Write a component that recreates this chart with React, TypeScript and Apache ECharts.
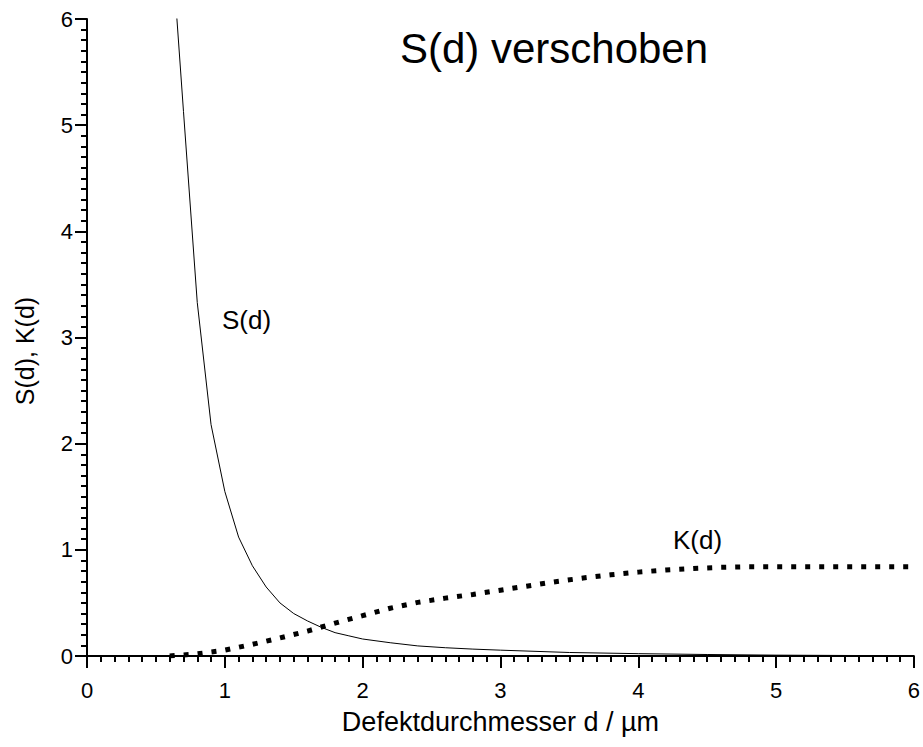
import React, { useEffect, useRef } from "react";
import * as echarts from "echarts";

const sD = [0.6, 0.7, 0.8, 0.9, 1.0, 1.1, 1.2, 1.3, 1.4, 1.5, 1.6, 1.7, 1.8, 1.9, 2.0, 2.2, 2.4, 2.6, 2.8, 3.0, 3.5, 4.0, 4.5, 5.0, 5.5, 6.0];
const sValues = [6.96, 5.13, 3.33, 2.18, 1.55, 1.12, 0.85, 0.65, 0.5, 0.4, 0.33, 0.27, 0.22, 0.19, 0.16, 0.125, 0.095, 0.078, 0.065, 0.055, 0.033, 0.022, 0.014, 0.008, 0.005, 0.003];

const kD = [0.6, 0.8, 1.0, 1.2, 1.4, 1.6, 1.8, 2.0, 2.2, 2.4, 2.6, 2.8, 3.0, 3.2, 3.4, 3.6, 3.8, 4.0, 4.2, 4.4, 4.6, 4.8, 5.0, 5.5, 6.0];
const kValues = [0, 0.02, 0.055, 0.11, 0.17, 0.235, 0.31, 0.38, 0.45, 0.505, 0.545, 0.58, 0.62, 0.66, 0.7, 0.735, 0.765, 0.79, 0.81, 0.825, 0.835, 0.84, 0.84, 0.84, 0.84];

const xTicks = ["0", "1", "2", "3", "4", "5", "6"];
const yTicks = ["0", "1", "2", "3", "4", "5", "6"];

const titleText = "S(d) verschoben";
const xName = "Defektdurchmesser d / µm";
const yName = "S(d), K(d)";
const sLabel = "S(d)";
const kLabel = "K(d)";

const FONT = "'Liberation Sans', Arial, Helvetica, sans-serif";

export default function App() {
  const ref = useRef<HTMLDivElement>(null);
  useEffect(() => {
    document.body.style.margin = "0";
    const chart = echarts.init(ref.current!, null, { renderer: "svg" });
    const axisCommon = {
      type: "value",
      min: 0,
      max: 6,
      interval: 1,
      splitLine: { show: false },
      axisLine: { show: true, lineStyle: { color: "#000", width: 2 } },
      axisTick: { show: true, inside: false, length: 12, lineStyle: { color: "#000", width: 2 } },
      minorTick: { show: true, splitNumber: 10, length: 6, lineStyle: { color: "#000", width: 2 } },
      minorSplitLine: { show: false },
    };
    chart.setOption({
      animation: false,
      backgroundColor: "#fff",
      textStyle: { fontFamily: FONT },
      title: {
        text: titleText,
        left: 549,
        top: 22,
        textAlign: "center",
        textStyle: { fontFamily: FONT, fontSize: 42, fontWeight: "normal", color: "#000" },
      },
      grid: { left: 87, right: 7, top: 19, bottom: 91, containLabel: false },
      xAxis: {
        ...axisCommon,
        name: xName,
        nameLocation: "middle",
        nameGap: 52,
        nameTextStyle: { fontFamily: FONT, fontSize: 27, color: "#000" },
        axisLabel: {
          margin: 23,
          fontFamily: FONT,
          fontSize: 22,
          color: "#000",
          formatter: (v: number) => xTicks[Math.round(v)] ?? "",
        },
      },
      yAxis: {
        ...axisCommon,
        axisLabel: {
          margin: 14,
          fontFamily: FONT,
          fontSize: 22,
          color: "#000",
          formatter: (v: number) => yTicks[Math.round(v)] ?? "",
        },
      },
      graphic: [
        {
          type: "text",
          x: 25,
          y: 351,
          rotation: Math.PI / 2,
          style: {
            text: yName,
            fontFamily: FONT,
            fontSize: 25,
            fill: "#000",
            align: "center",
            verticalAlign: "middle",
          },
        },
        {
          type: "text",
          left: 222,
          top: 307,
          style: { text: sLabel, fontFamily: FONT, fontSize: 26, fill: "#000" },
        },
        {
          type: "text",
          left: 673,
          top: 527,
          style: { text: kLabel, fontFamily: FONT, fontSize: 26, fill: "#000" },
        },
      ],
      series: [
        {
          name: "S(d)",
          type: "line",
          data: sD.map((d, i) => [d, sValues[i]]),
          showSymbol: false,
          symbol: "none",
          clip: true,
          lineStyle: { color: "#000", width: 1 },
        },
        {
          name: "K(d)",
          type: "line",
          data: kD.map((d, i) => [d, kValues[i]]),
          showSymbol: false,
          symbol: "none",
          clip: true,
          lineStyle: { color: "#000", width: 5, type: [5, 9], cap: "butt" },
        },
      ],
    });
    return () => chart.dispose();
  }, []);
  return <div ref={ref} style={{ position: "absolute", left: 0, top: 0, width: 923, height: 747 }} />;
}
